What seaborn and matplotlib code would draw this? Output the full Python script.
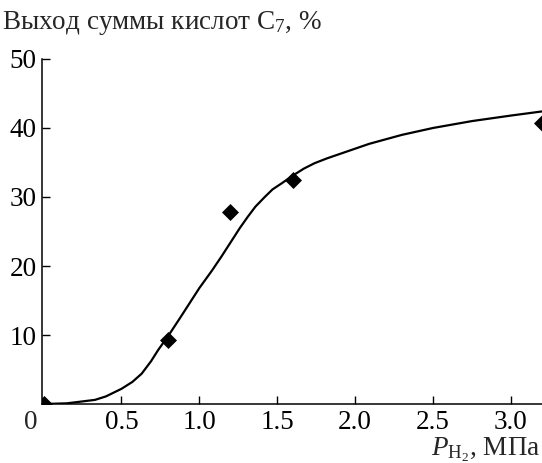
import numpy as np
import pandas as pd
import matplotlib
matplotlib.use('Agg')
import matplotlib.pyplot as plt
import seaborn as sns

# experimental points
p_exp = [0.0, 0.8, 1.2, 1.6, 3.2]
yield_exp = [0.0, 9.3, 27.8, 32.5, 40.7]

# fitted curve
p_fit = [0.0, 0.15, 0.33, 0.4, 0.5, 0.57, 0.63, 0.69, 0.735, 0.81, 0.88, 0.94,
         1.0, 1.08, 1.14, 1.2, 1.26, 1.31, 1.36, 1.42, 1.47, 1.53, 1.6, 1.67,
         1.74, 1.82, 1.91, 2.09, 2.3, 2.5, 2.75, 3.0, 3.2]
yield_fit = [0.0, 0.1, 0.6, 1.1, 2.2, 3.2, 4.4, 6.2, 7.8, 10.2, 12.6, 14.7,
             16.8, 19.3, 21.3, 23.4, 25.5, 27.1, 28.6, 30.0, 31.1, 32.0, 33.1, 34.1,
             34.9, 35.6, 36.3, 37.7, 39.0, 40.0, 41.0, 41.8, 42.4]

xticks = [0.5, 1.0, 1.5, 2.0, 2.5, 3.0]
yticks = [10, 20, 30, 40, 50]

sns.set_style('ticks')
plt.rcParams['font.family'] = ['Liberation Serif', 'DejaVu Serif']
plt.rcParams['mathtext.fontset'] = 'custom'
plt.rcParams['mathtext.rm'] = 'Liberation Serif'
plt.rcParams['mathtext.it'] = 'Liberation Serif:italic'

fig = plt.figure(figsize=(5.42, 4.63), dpi=100)
ax = fig.add_axes([0.0775, 0.1274, 0.9225, 0.7452])

fit_df = pd.DataFrame({'p': p_fit, 'y': yield_fit})
exp_df = pd.DataFrame({'p': p_exp, 'y': yield_exp})

sns.lineplot(data=fit_df, x='p', y='y', color='black', linewidth=1.6, ax=ax)
sns.scatterplot(data=exp_df, x='p', y='y', marker='D', color='black', s=75,
                edgecolor='black', linewidth=0, ax=ax, zorder=5)

ax.set_xlim(-0.01, 3.2)
ax.set_ylim(0, 50)
ax.set_xticks(xticks)
ax.set_xticklabels(['0.5', '1.0', '1.5', '2.0', '2.5', '3.0'])
ax.set_yticks(yticks)
ax.tick_params(direction='in', length=6, width=1.0, labelsize=19.5, colors='black', pad=4)
ax.tick_params(axis='x', pad=4.5)
ax.set_xlabel('')
ax.set_ylabel('')
sns.despine(ax=ax)
for s in ['left', 'bottom']:
    ax.spines[s].set_linewidth(1.1)
    ax.spines[s].set_color('black')

ax.annotate('0', xy=(0, 0), xytext=(-9, -4.5), textcoords='offset points',
            ha='center', va='top', fontsize=19.5)

fig.text(0.004, 1 - 29 / 463, 'Выход суммы кислот C$_7$, $\\mathit{\\%}$', fontsize=19.5,
         ha='left', va='baseline')
fig.text(0.997, 1 - 455 / 463, '$\\mathit{P}_{\\mathrm{H_2}}$, МПа', fontsize=19.5,
         ha='right', va='baseline')

fig.savefig('out.png', dpi=100)
